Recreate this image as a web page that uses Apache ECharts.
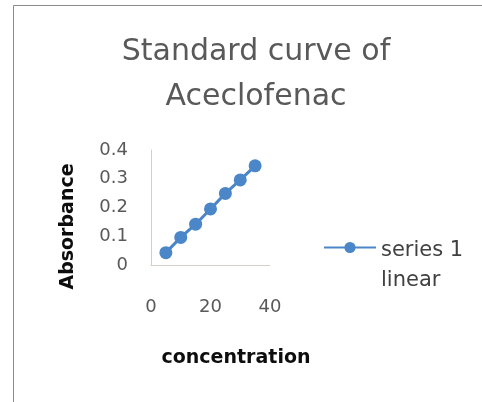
<!DOCTYPE html>
<html><head><meta charset="utf-8">
<script src="https://cdn.jsdelivr.net/npm/echarts@6/dist/echarts.min.js"></script>
<style>html,body{margin:0;padding:0;background:#fff}#c{width:482px;height:402px}</style>
</head><body><div id="c"></div>
<script>
const concentration = [5, 10, 15, 20, 25, 30, 35];
const absorbance = [0.043, 0.096, 0.142, 0.195, 0.249, 0.296, 0.345];
const seriesName = 'series 1 linear';
const titleText = 'Standard curve of\nAceclofenac';
const xName = 'concentration';
const yName = 'Absorbance';

const chart = echarts.init(document.getElementById('c'), null, {renderer: 'canvas'});
const font = 'DejaVu Sans';
chart.setOption({
  animation: false,
  backgroundColor: '#fff',
  graphic: [{type: 'rect', shape: {x: 13.5, y: 5.5, width: 600, height: 600}, style: {fill: 'none', stroke: '#8c8c8c', lineWidth: 1}, silent: true, z: -1}],
  title: {
    text: titleText, left: 251, top: 25, textAlign: 'center',
    textStyle: {fontFamily: font, fontSize: 30, fontWeight: 'normal', color: '#595959', lineHeight: 45}
  },
  legend: {
    left: 318, top: 202, orient: 'vertical', itemWidth: 52, itemHeight: 14, itemGap: 0,
    formatter: function (name) {
      const k = name.lastIndexOf(' ');
      return '{e| }\n{a|' + name.slice(0, k) + '}\n{a|' + name.slice(k + 1) + '}';
    },
    textStyle: {
      fontFamily: font, fontSize: 21, color: '#404040',
      rich: {
        e: {fontFamily: font, fontSize: 21, lineHeight: 36},
        a: {fontFamily: font, fontSize: 21, lineHeight: 30, color: '#404040'}
      }
    },
    data: [seriesName]
  },
  grid: {left: 151, top: 150, width: 119, height: 115},
  xAxis: {
    type: 'value', min: 0, max: 40, interval: 20,
    name: xName, nameLocation: 'middle', nameGap: 84,
    nameTextStyle: {fontFamily: font, fontSize: 19, fontWeight: 'bold', color: '#0d0d0d', padding: [0, 0, 0, 51]},
    axisLine: {show: true, lineStyle: {color: '#d5cfc8', width: 1}},
    axisTick: {show: false}, splitLine: {show: false},
    axisLabel: {fontFamily: font, fontSize: 18, color: '#595959', margin: 33}
  },
  yAxis: {
    type: 'value', min: 0, max: 0.4, interval: 0.1,
    name: yName, nameLocation: 'middle', nameGap: 73,
    nameTextStyle: {fontFamily: font, fontSize: 19, fontWeight: 'bold', color: '#0d0d0d', padding: [0, 38, 0, 0]},
    axisLine: {show: true, lineStyle: {color: '#d5cfc8', width: 1}},
    axisTick: {show: false}, splitLine: {show: false},
    axisLabel: {fontFamily: font, fontSize: 18, color: '#595959', margin: 23}
  },
  series: [{
    name: seriesName, type: 'line',
    data: concentration.map((x, i) => [x, absorbance[i]]),
    symbol: 'circle', symbolSize: 13,
    lineStyle: {color: '#4a86c8', width: 3},
    itemStyle: {color: '#4a86c8'}
  }]
});
</script></body></html>
